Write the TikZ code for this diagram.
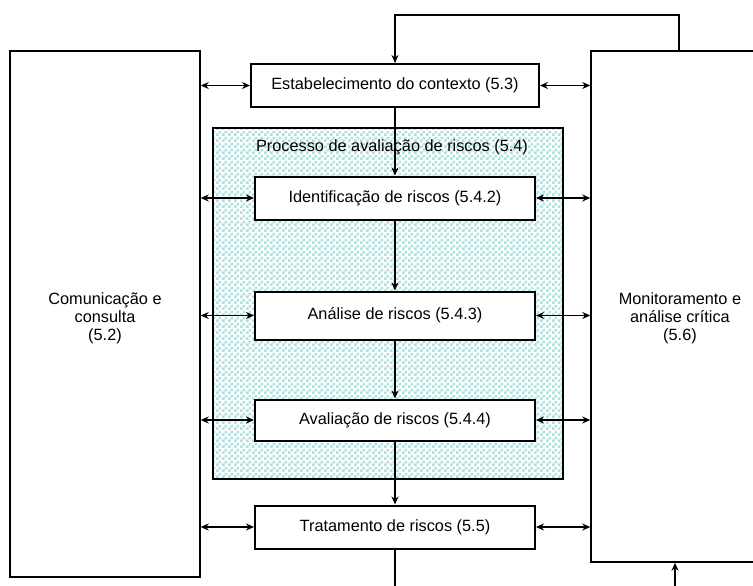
\documentclass[tikz,border=0pt]{standalone}
\usepackage{fontspec}
\setmainfont{Liberation Sans}
\usetikzlibrary{positioning, arrows.meta, patterns}

\pgfdeclarepatternformonly{checks}{\pgfpointorigin}{\pgfpoint{6pt}{6pt}}{\pgfpoint{6pt}{6pt}}{%
  \pgfpathrectangle{\pgfpointorigin}{\pgfpoint{3pt}{3pt}}%
  \pgfpathrectangle{\pgfpoint{3pt}{3pt}}{\pgfpoint{3pt}{3pt}}%
  \pgfusepath{fill}}
\definecolor{checkcyan}{RGB}{170,224,224}

\tikzstyle{riskbox} = [rectangle, minimum width=280pt, minimum height=43pt, text centered, draw=black, line width=2pt, fill=white]
\tikzstyle{side} = [rectangle, draw=black, line width=1.5pt, fill=white]
\tikzstyle{arrow} = [line width=1.2pt, ->, >={Stealth[length=8pt, width=7pt]}]
\tikzstyle{twoway} = [line width=1.2pt, <->, >={Stealth[length=8pt, width=7pt]}]

\begin{document}
\begin{tikzpicture}[x=1pt, y=-1pt, font=\fontsize{16.3}{18}\selectfont]

\clip (0,0) rectangle (753,586);

% Side boxes
\node (com) [side, minimum width=190pt, minimum height=526pt] at (105,314) {};
\node (comtext) [align=center] at (105,318) {Comunicação e\\consulta\\(5.2)};
\node (mon) [side, minimum width=178pt, minimum height=511pt] at (680,306.5) {};
\node (montext) [align=center] at (680,318) {Monitoramento e\\análise crítica\\(5.6)};

% Risk assessment area
\node (proc) [draw=black, line width=2pt, pattern=checks, pattern color=checkcyan, minimum width=350pt, minimum height=351pt] at (388,303.5) {};
\node (proctitle) at (392,147) {Processo de avaliação de riscos (5.4)};

% Steps
\node (ctx) [riskbox, minimum width=288pt] at (395,85.5) {Estabelecimento do contexto (5.3)};
\node (ident) [riskbox] at (395,198) {Identificação de riscos (5.4.2)};
\node (anal) [riskbox, minimum height=48pt, below=70pt of ident] {Análise de riscos (5.4.3)};
\node (aval) [riskbox, minimum height=41pt, below=58pt of anal] {Avaliação de riscos (5.4.4)};
\node (trat) [riskbox, below=63pt of aval] {Tratamento de riscos (5.5)};

% Flow
\draw [arrow] (ctx.south) -- (ident.north);
\draw [arrow] (ident.south) -- (anal.north);
\draw [arrow] (anal.south) -- (aval.north);
\draw [arrow] (aval.south) -- (trat.north);

% Feedback loop
\coordinate (looptop) at (679,15);
\coordinate (loopleft) at (395,590);
\coordinate (loopright) at (675,590);
\draw [arrow] (mon.north -| looptop) -- (looptop) -| (ctx.north);
\draw [line width=1.2pt] (trat.south) -- (loopleft);
\draw [arrow] (loopright) -- (loopright |- mon.south);

% Links to the side boxes
\foreach \n in {ctx, ident, anal, aval, trat} {
  \draw [twoway] (com.east |- \n) -- (\n.west);
  \draw [twoway] (\n.east) -- (mon.west |- \n);
}

\end{tikzpicture}
\end{document}
